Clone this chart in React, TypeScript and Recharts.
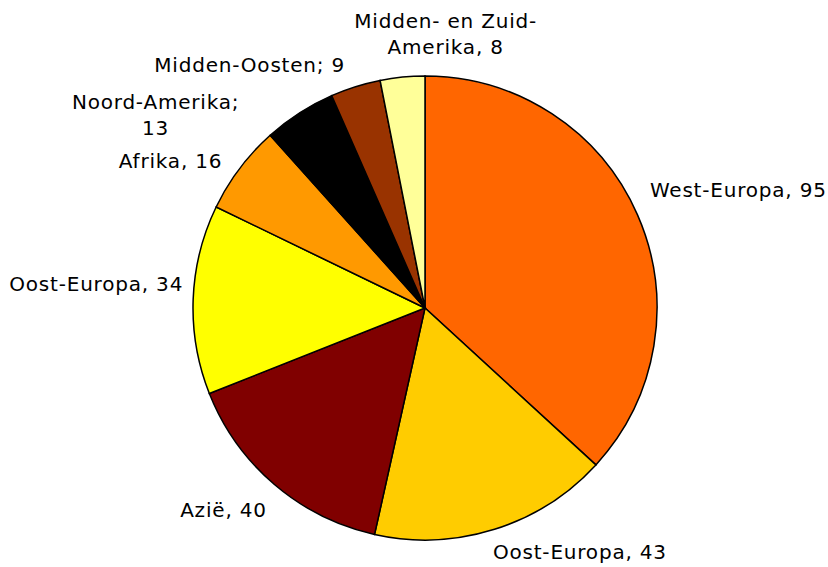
import { PieChart, Pie, Cell } from 'recharts';

// Regio's in volgorde met de klok mee, beginnend bovenaan
const regions = [
  'West-Europa',
  'Oost-Europa',
  'Azië',
  'Oost-Europa',
  'Afrika',
  'Noord-Amerika',
  'Midden-Oosten',
  'Midden- en Zuid-Amerika',
];
const values = [95, 43, 40, 34, 16, 13, 9, 8];
// Labeltekst zoals in het origineel (regels gesplitst)
const labelLines = [
  ['West-Europa, 95'],
  ['Oost-Europa, 43'],
  ['Azië, 40'],
  ['Oost-Europa, 34'],
  ['Afrika, 16'],
  ['Noord-Amerika;', '13'],
  ['Midden-Oosten; 9'],
  ['Midden- en Zuid-', 'Amerika, 8'],
];
const colors = ['#FF6600', '#FFCC00', '#800000', '#FFFF00', '#FF9900', '#000000', '#993300', '#FFFF99'];

// kleine handmatige verschuivingen van de labels (layout, geen data)
const labelShift: [number, number][] = [
  [-4, -17],
  [-7, 5],
  [4, 12],
  [8, -15],
  [-3, 3],
  [-134, 17],
  [-5, -4],
  [45, -25],
];

const data = regions.map((name, i) => ({ name, value: values[i] }));

const RAD = Math.PI / 180;
const LINE_H = 26;

function renderLabel(props: any) {
  const { cx, cy, midAngle, outerRadius, index } = props;
  const r = outerRadius + 18;
  const cos = Math.cos(-midAngle * RAD);
  const sin = Math.sin(-midAngle * RAD);
  const lines = labelLines[index];
  const [dx, dy] = labelShift[index];
  const x = cx + r * cos + dx;
  const y = cy + r * sin + dy;
  const anchor = lines.length > 1 ? 'middle' : cos > 0.1 ? 'start' : cos < -0.1 ? 'end' : 'middle';
  const top = y - ((lines.length - 1) * LINE_H) / 2;
  return (
    <text
      key={`lbl-${index}`}
      x={x}
      y={top}
      textAnchor={anchor}
      dominantBaseline="central"
      fill="#000"
      fontSize={20}
      letterSpacing={0.8}
      fontFamily="DejaVu Sans, Verdana, sans-serif"
    >
      {lines.map((ln, j) => (
        <tspan key={j} x={x} y={top + j * LINE_H}>
          {ln}
        </tspan>
      ))}
    </text>
  );
}

export default function App() {
  return (
    <div style={{ position: 'absolute', left: 0, top: 0, width: 828, height: 567, background: '#fff' }}>
      <PieChart width={828} height={567} margin={{ top: 0, right: 0, bottom: 0, left: 0 }}>
        <Pie
          data={data}
          dataKey="value"
          nameKey="name"
          cx={425}
          cy={308}
          outerRadius={232}
          startAngle={90}
          endAngle={-270}
          stroke="#000"
          strokeWidth={1.5}
          label={renderLabel}
          labelLine={false}
          isAnimationActive={false}
        >
          {data.map((d, i) => (
            <Cell key={`c-${i}`} fill={colors[i]} />
          ))}
        </Pie>
      </PieChart>
    </div>
  );
}
